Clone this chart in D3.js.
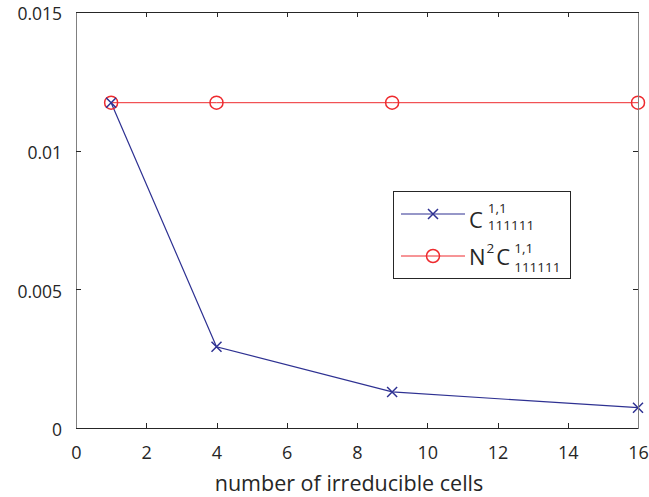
<!DOCTYPE html>
<html>
<head>
<meta charset="utf-8">
<script src="https://cdn.jsdelivr.net/npm/d3@7"></script>
<style>
body { margin: 0; background: #fff; }
text { font-family: "Open Sans", sans-serif; fill: #262626; }
</style>
</head>
<body>
<div id="chart"></div>
<script>

var cells = [1, 4, 9, 16];
var cValues = [0.01173, 0.00293, 0.0013, 0.000733];
var n2cValues = [0.01173, 0.01173, 0.01173, 0.01173];
var xTicks = [0, 2, 4, 6, 8, 10, 12, 14, 16];
var yTicks = [0, 0.005, 0.01, 0.015];
var yTickLabels = ["0", "0.005", "0.01", "0.015"];

var width = 649, height = 497;
var margin = {top: 12, right: 11, bottom: 69, left: 76};
var blue = "#2e3192", red = "#ee2a2e";

var svg = d3.select("#chart").append("svg")
	.attr("width", width)
	.attr("height", height);

var x = d3.scaleLinear().domain([0, 16]).range([margin.left, width - margin.right]);
var y = d3.scaleLinear().domain([0, 0.015]).range([height - margin.bottom, margin.top]);

var plot = svg.append("g");

// axes box, ticks point inwards like matlab
var x0 = x(0), x1 = x(16), y0 = y(0), y1 = y(0.015);

svg.append("g")
	.attr("transform", "translate(0," + y0 + ")")
	.call(d3.axisBottom(x).tickValues(xTicks).tickSize(-5).tickPadding(18).tickSizeOuter(0))
	.call(function(g) {
		g.select(".domain").attr("stroke", "#262626");
		g.selectAll("text").attr("font-size", 18);
	});

svg.append("g")
	.attr("transform", "translate(0," + y1 + ")")
	.call(d3.axisTop(x).tickValues(xTicks).tickSize(-5).tickFormat("").tickSizeOuter(0))
	.call(function(g) { g.select(".domain").attr("stroke", "#262626"); });

svg.append("g")
	.attr("transform", "translate(" + x0 + ",0)")
	.call(d3.axisLeft(y).tickValues(yTicks).tickSize(-5).tickPadding(14).tickSizeOuter(0)
		.tickFormat(function(d, i) { return yTickLabels[i]; }))
	.call(function(g) {
		g.select(".domain").attr("stroke", "#808080").attr("stroke-width", 1.5);
		g.selectAll("text").attr("font-size", 17.5).attr("dy", "0.45em");
	});

svg.append("g")
	.attr("transform", "translate(" + x1 + ",0)")
	.call(d3.axisRight(y).tickValues(yTicks).tickSize(-5).tickFormat("").tickSizeOuter(0))
	.call(function(g) { g.select(".domain").attr("stroke", "#808080").attr("stroke-width", 1.5); });

svg.selectAll(".tick line").attr("stroke", "#262626");
svg.selectAll(".domain, .tick line").attr("shape-rendering", "crispEdges");

// x label
svg.append("text")
	.attr("x", 349)
	.attr("y", 491)
	.attr("text-anchor", "middle")
	.attr("font-size", 21.5)
	.text("number of irreducible cells");

// series
var line = d3.line()
	.x(function(d) { return x(d[0]); })
	.y(function(d) { return y(d[1]); });

var cData = cells.map(function(c, i) { return [c, cValues[i]]; });
var nData = cells.map(function(c, i) { return [c, n2cValues[i]]; });

plot.append("path").datum(nData)
	.attr("d", line).attr("fill", "none").attr("stroke", red).attr("stroke-width", 1);

plot.append("path").datum(cData)
	.attr("d", line).attr("fill", "none").attr("stroke", blue).attr("stroke-width", 1.2);

function cross(g, cx, cy, s) {
	g.append("path")
		.attr("d", "M" + (cx - s) + "," + (cy - s) + "L" + (cx + s) + "," + (cy + s)
			+ "M" + (cx - s) + "," + (cy + s) + "L" + (cx + s) + "," + (cy - s))
		.attr("stroke", blue).attr("stroke-width", 1.5).attr("fill", "none");
}

plot.selectAll(".circ").data(nData).enter()
	.append("circle")
	.attr("class", "circ")
	.attr("cx", function(d) { return x(d[0]); })
	.attr("cy", function(d) { return y(d[1]); })
	.attr("r", 6.5)
	.attr("fill", "none")
	.attr("stroke", red)
	.attr("stroke-width", 1.5);

cData.forEach(function(d) { cross(plot, x(d[0]), y(d[1]), 5); });

// legend
var lg = svg.append("g");
lg.append("rect")
	.attr("x", 393.5).attr("y", 191.5).attr("width", 177).attr("height", 87)
	.attr("fill", "#fff").attr("stroke", "#262626").attr("stroke-width", 1);

lg.append("line").attr("x1", 401).attr("x2", 465).attr("y1", 214).attr("y2", 214)
	.attr("stroke", blue).attr("stroke-width", 1.2);
cross(lg, 433, 214, 5);

lg.append("line").attr("x1", 401).attr("x2", 465).attr("y1", 256).attr("y2", 256)
	.attr("stroke", red).attr("stroke-width", 1);
lg.append("circle").attr("cx", 433).attr("cy", 256).attr("r", 6.5)
	.attr("fill", "none").attr("stroke", red).attr("stroke-width", 1.5);

function scripted(g, px, by, parts) {
	// each part placed after the previous; a sub shares the x of its sup
	var cx = px;
	parts.forEach(function(p) {
		var t = g.append("text").attr("x", cx).attr("y", by + p.dy)
			.attr("font-size", p.size).text(p.text);
		var w = t.node().getComputedTextLength();
		if (p.sub) {
			var s = g.append("text").attr("x", cx).attr("y", by + p.sub.dy)
				.attr("font-size", p.sub.size).text(p.sub.text);
			w = Math.max(w, s.node().getComputedTextLength());
		}
		cx += w + (p.gap || 0);
	});
}

scripted(lg, 469, 228, [
	{text: "C", size: 22, dy: 0, gap: 5},
	{text: "1,1", size: 13.5, dy: -15, sub: {text: "111111", size: 13.5, dy: 2}}
]);

scripted(lg, 469, 265, [
	{text: "N", size: 22, dy: 0, gap: 1},
	{text: "2", size: 13.5, dy: -12, gap: 2},
	{text: "C", size: 22, dy: 0, gap: 4},
	{text: "1,1", size: 13.5, dy: -12, sub: {text: "111111", size: 13.5, dy: 7}}
]);

</script>
</body>
</html>
